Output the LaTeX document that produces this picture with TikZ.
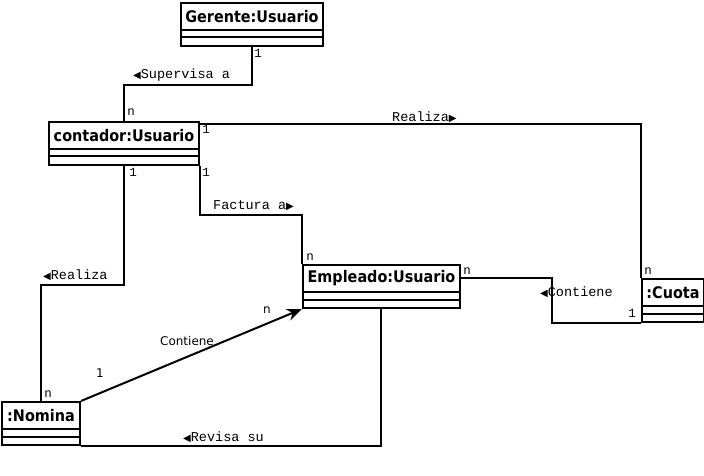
\documentclass[tikz,border=0pt]{standalone}
\usepackage{fontspec}
\setmainfont{DejaVu Sans}
\newfontfamily\titlefont{DejaVu Sans}[FakeStretch=0.9]
\newfontfamily\monofont{Liberation Mono}
\newfontfamily\symfont{DejaVu Sans}
\usetikzlibrary{arrows.meta, positioning}
\tikzset{
  objbox/.style={draw, line width=2pt, inner sep=0pt, minimum height=43pt, anchor=north west},
  objname/.style={anchor=north, inner sep=0pt, minimum height=28pt, font=\titlefont\bfseries\fontsize{16}{18}\selectfont},
  assoc/.style={line width=2pt},
  rolename/.style={font=\monofont\fontsize{13.5}{15}\selectfont, inner sep=0pt, anchor=west},
  mult/.style={font=\monofont\fontsize{12.5}{14}\selectfont, inner sep=0pt},
  sanslbl/.style={font=\fontsize{12}{14}\selectfont, inner sep=0pt}
}
\newcommand{\lft}{{\symfont\fontsize{10}{12}\selectfont ◀}}
\newcommand{\rgt}{{\symfont\fontsize{10}{12}\selectfont ▶}}
\newcommand{\umlobject}[5]{%
  \node[objbox, minimum width=#4] (#1) at (#2,#3) {};
  \node[objname] (#1-name) at (#1.north) {#5};
  \draw[line width=2pt] ([yshift=-28pt]#1.north west) -- ([yshift=-28pt]#1.north east);
  \draw[line width=2pt] ([yshift=-35.5pt]#1.north west) -- ([yshift=-35.5pt]#1.north east);
}

\begin{document}
\begin{tikzpicture}[x=1pt, y=-1pt]
  \useasboundingbox (0,0) rectangle (704,476);
  \umlobject{ger}{180}{2}{142}{Gerente:Usuario}
  \umlobject{cont}{48}{121}{150}{contador:Usuario}
  \umlobject{emp}{302}{264}{157}{Empleado:Usuario}
  \umlobject{cuota}{641}{278}{62}{:Cuota}
  \umlobject{nom}{1}{401}{78}{:Nomina}

  \draw[assoc] (ger.south) -- ++(0,38) -| (cont.north);
  \draw[assoc] ([yshift=-3pt]cont.north east) -| (cuota.north west);
  \draw[assoc] (cont.south) -- ++(0,119) -| (nom.north);
  \draw[assoc] (cont.south east) -- ++(0,49) -| (emp.north west);
  \draw[assoc] ([yshift=-14pt]emp.north east) -- ++(91,0) |- (cuota.south west);
  \draw[assoc, -{Stealth[length=15pt, width=12pt]}] (nom.north east) -- (emp.south west);
  \draw[assoc] (nom.south east) -| ([xshift=-0.5pt]emp.south);

  \node[rolename] (supervisa) at (133,75) {\lft Supervisa a};
  \node[rolename] (realizacuota) at (392,117) {Realiza\rgt};
  \node[rolename] (realizanom) at (43,275) {\lft Realiza};
  \node[rolename] (factura) at (213,206) {Factura a\rgt};
  \node[rolename] (contienecuota) at (540,292) {\lft Contiene};
  \node[rolename] (revisa) at (183,437) {\lft Revisa su};

  \node[mult] (m-ger) at (258,53) {1};
  \node[mult] (m-cont-top) at (131,112) {n};
  \node[mult] (m-cont-right) at (206,129) {1};
  \node[mult] (m-cont-left) at (133,172) {1};
  \node[mult] (m-cont-fact) at (206,172) {1};
  \node[mult] (m-emp-top) at (310,257) {n};
  \node[mult] (m-emp-right) at (467,271) {n};
  \node[mult] (m-cuota-top) at (648,271) {n};
  \node[mult] (m-cuota-left) at (632,313) {1};
  \node[mult] (m-nom-top) at (48,394) {n};

  \node[sanslbl] (m-nom-diag) at (100,373) {1};
  \node[sanslbl] (m-emp-diag) at (267,310) {n};
  \node[sanslbl] (contiene) at (187,341) {Contiene};
\end{tikzpicture}
\end{document}
